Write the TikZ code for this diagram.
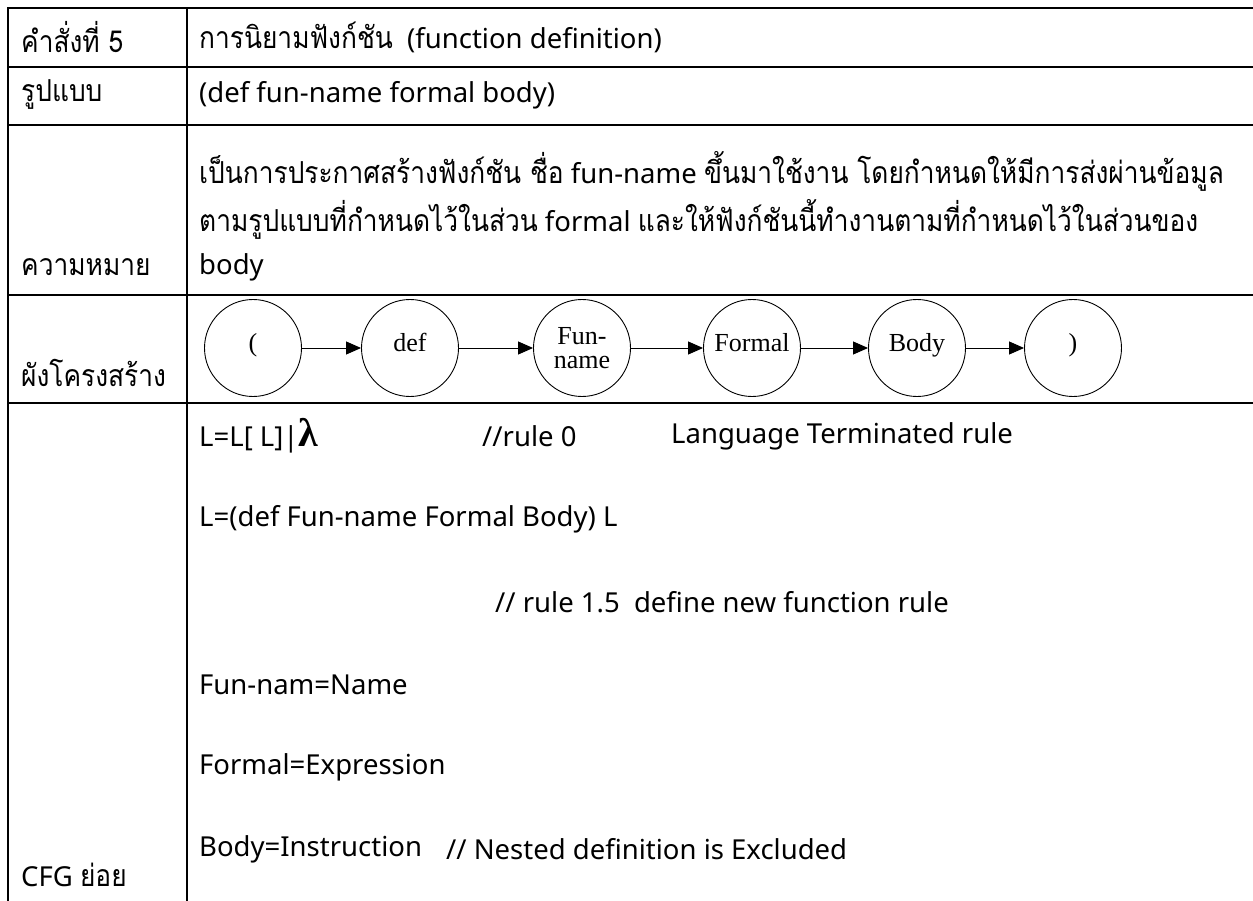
\documentclass[tikz,border=0pt]{standalone}
\usepackage{fontspec}
\setmainfont{Noto Sans}
\newfontfamily\thai[Script=Thai,Scale=1.1,FakeStretch=0.87]{Loma}
\newfontfamily\symfont{Liberation Serif}
\usetikzlibrary{arrows.meta}
\begin{document}
\begin{tikzpicture}[x=1pt,y=-1pt,
  rule/.style={line width=2.4pt,black},
  txt/.style={anchor=west,inner sep=0pt,font=\fontsize{27.5}{31}\selectfont},
  state/.style={circle,draw,line width=0.9pt,minimum size=97pt,inner sep=0pt,
    align=center,font=\symfont\fontsize{26}{24}\selectfont},
  one/.style={text height=0.87em,text depth=0.1em},
  link/.style={line width=1pt,-{Triangle[length=15pt,width=13pt]}}]
\useasboundingbox (0,0) rectangle (1253,901);

% table rules
\draw[rule] (1253,8) -- (8,8) -- (8,901);
\draw[rule] (187,8) -- (187,901);
\foreach \yy in {67,125,295,403}
  \draw[rule] (8,\yy) -- (1253,\yy);

% row 1
\node[txt] (k1) at (21,37) {\thai คำสั่งที่ 5};
\node[txt] (v1) at (199,37) {{\thai การนิยามฟังก์ชัน}\ \ (function definition)};
% row 2
\node[txt] (k2) at (21,95) {\thai รูปแบบ};
\node[txt] (v2) at (199,95) {(def fun-name formal body)};
% row 3
\node[txt] (m1) at (199,171) {{\thai เป็นการประกาศสร้างฟังก์ชัน ชื่อ} fun-name {\thai ขึ้นมาใช้งาน โดยกำหนดให้มีการส่งผ่านข้อมูล}};
\node[txt] (m2) at (199,219) {{\thai ตามรูปแบบที่กำหนดไว้ในส่วน} formal {\thai และให้ฟังก์ชันนี้ทำงานตามที่กำหนดไว้ในส่วนของ}};
\node[txt] (m3) at (199,267) {body};
\node[txt] (k3) at (21,267) {\thai ความหมาย};

% row 4: structure chart
\node[txt] (k4) at (21,373) {\thai ผังโครงสร้าง};
\node[state,one] (s1) at (253,348) {(};
\node[state,one] (s2) at (410,348) {def};
\node[state] (s3) at (582,348) {Fun-\\name};
\node[state,one] (s4) at (752,348) {Formal};
\node[state,one] (s5) at (917,348) {Body};
\node[state,one] (s6) at (1073,348) {)};
\draw[link] (s1) -- (s2);
\draw[link] (s2) -- (s3);
\draw[link] (s3) -- (s4);
\draw[link] (s4) -- (s5);
\draw[link] (s5) -- (s6);

% row 5: grammar
\node[txt] (g1) at (199,436) {L=L[ L]|{\symfont\bfseries\fontsize{40}{40}\selectfont λ}};
\node[txt] (g1c) at (482,436) {//rule 0};
\node[txt] (g1d) at (671,436) {Language Terminated rule};
\node[txt] (g2) at (199,519) {L=(def Fun-name Formal Body) L};
\node[txt] (g3) at (495,602) {// rule 1.5\ \ define new function rule};
\node[txt] (g4) at (199,685) {Fun-nam=Name};
\node[txt] (g5) at (199,767) {Formal=Expression};
\node[txt] (g6) at (199,849) {Body=Instruction};
\node[txt] (g6c) at (446,849) {// Nested definition is Excluded};
\node[txt] (k5) at (21,875) {CFG {\thai ย่อย}};
\end{tikzpicture}
\end{document}
